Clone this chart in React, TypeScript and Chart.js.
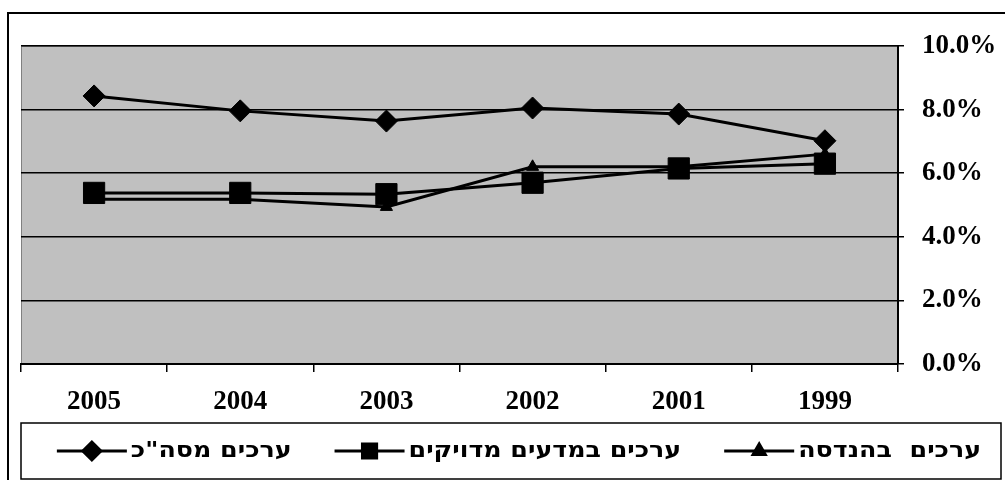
import React, { useEffect, useRef } from 'react';
import { Chart, registerables } from 'chart.js';
import { drawPoint } from 'chart.js/helpers';

Chart.register(...registerables);

const years = ['2005', '2004', '2003', '2002', '2001', '1999'];
const totalValues = [8.43, 7.96, 7.64, 8.05, 7.86, 7.02];
const exactSciencesValues = [5.38, 5.38, 5.34, 5.7, 6.15, 6.3];
const engineeringValues = [5.18, 5.18, 4.94, 6.2, 6.2, 6.6];
const seriesLabels = ['ערכים מסה"כ', 'ערכים במדעים מדויקים', 'ערכים  בהנדסה'];
const seriesMarkers = ['rectRot', 'rect', 'triangle'];
const markerRadius = [11, 15, 7];
const yMin = 0;
const yMax = 10;
const yStep = 2;

const W = 1005;
const H = 480;

const framePlugin = {
  id: 'framePlugin',
  beforeDraw(chart: any) {
    const { ctx, chartArea } = chart;
    ctx.save();
    ctx.fillStyle = '#ffffff';
    ctx.fillRect(0, 0, W, H);
    ctx.strokeStyle = '#000';
    ctx.lineWidth = 2;
    ctx.strokeRect(8, 13, 1010, 500);
    ctx.fillStyle = '#c0c0c0';
    ctx.fillRect(chartArea.left, chartArea.top, chartArea.right - chartArea.left, chartArea.bottom - chartArea.top);
    ctx.strokeStyle = '#808080';
    ctx.lineWidth = 1;
    ctx.strokeRect(chartArea.left + 0.5, chartArea.top + 0.5, chartArea.right - chartArea.left - 1, chartArea.bottom - chartArea.top - 1);
    ctx.fillStyle = '#ffffff';
    ctx.fillRect(21, 423, 980, 56);
    ctx.strokeStyle = '#000';
    ctx.lineWidth = 1.5;
    ctx.strokeRect(21, 423, 980, 56);
    ctx.restore();
  },
  afterDraw(chart: any) {
    const { ctx } = chart;
    ctx.save();
    const sx = 1.15;
    ctx.font = 'bold 22px "DejaVu Sans"';
    ctx.direction = 'rtl';
    ctx.textAlign = 'right';
    ctx.textBaseline = 'middle';
    const cy = 451;
    let x = 981;
    const order = [2, 1, 0];
    for (const i of order) {
      const ds = chart.data.datasets[i];
      const w = ctx.measureText(ds.label).width * sx;
      ctx.fillStyle = '#000';
      ctx.save();
      ctx.translate(x, cy);
      ctx.scale(sx, 1);
      ctx.fillText(ds.label, 0, 0);
      ctx.restore();
      const lineRight = x - w - 4;
      const lineLeft = lineRight - 70;
      ctx.strokeStyle = '#000';
      ctx.lineWidth = 3;
      ctx.beginPath();
      ctx.moveTo(lineLeft, cy);
      ctx.lineTo(lineRight, cy);
      ctx.stroke();
      ctx.fillStyle = '#000';
      drawPoint(ctx, {
        pointStyle: ds.pointStyle,
        radius: i === 1 ? 10 : i === 0 ? 9 : 7,
        rotation: 0,
        borderWidth: 1,
      } as any, (lineLeft + lineRight) / 2, cy);
      x = lineLeft - 43;
    }
    ctx.restore();
  },
};

export default function App() {
  const ref = useRef<HTMLCanvasElement | null>(null);
  useEffect(() => {
    if (!ref.current) return;
    const series = [totalValues, exactSciencesValues, engineeringValues];
    const orders = [2, 0, 1];
    const chart = new Chart(ref.current, {
      type: 'line',
      data: {
        labels: years,
        datasets: series.map((vals, i) => ({
          label: seriesLabels[i],
          data: vals,
          borderColor: '#000',
          backgroundColor: '#000',
          borderWidth: 3,
          pointStyle: seriesMarkers[i] as any,
          pointRadius: markerRadius[i],
          pointBackgroundColor: '#000',
          pointBorderColor: '#000',
          pointBorderWidth: 1,
          tension: 0,
          fill: false,
          order: orders[i],
        })),
      },
      options: {
        responsive: false,
        devicePixelRatio: 1,
        animation: false,
        events: [],
        layout: { padding: { left: 21, top: 46, right: 0, bottom: 0 } },
        plugins: { legend: { display: false }, tooltip: { enabled: false } },
        scales: {
          x: {
            type: 'category',
            offset: true,
            afterFit(scale: any) { scale.height = 116; },
            grid: { display: true, drawOnChartArea: false, drawTicks: true, tickLength: 8, color: '#000', lineWidth: 1.5, offset: true },
            border: { display: true, color: '#000', width: 2 },
            ticks: {
              color: '#000',
              padding: 14,
              maxRotation: 0,
              autoSkip: false,
              font: { family: '"Liberation Serif", "Times New Roman", serif', size: 27, weight: 'bold' },
            },
          },
          y: {
            position: 'right',
            min: yMin,
            max: yMax,
            afterFit(scale: any) { scale.width = 107; },
            grid: { color: '#000', lineWidth: 1.5, drawTicks: true, tickLength: 6 },
            border: { display: true, color: '#000', width: 2 },
            ticks: {
              stepSize: yStep,
              color: '#000',
              padding: 18,
              font: { family: '"Liberation Serif", "Times New Roman", serif', size: 27, weight: 'bold' },
              callback: (v: any) => Number(v).toFixed(1) + '%',
            },
          },
        },
      },
      plugins: [framePlugin],
    });
    return () => chart.destroy();
  }, []);
  return (
    <div style={{ position: 'fixed', left: 0, top: 0, width: W, height: H, background: '#fff' }}>
      <canvas ref={ref} width={W} height={H} style={{ width: W, height: H, display: 'block' }} />
    </div>
  );
}
